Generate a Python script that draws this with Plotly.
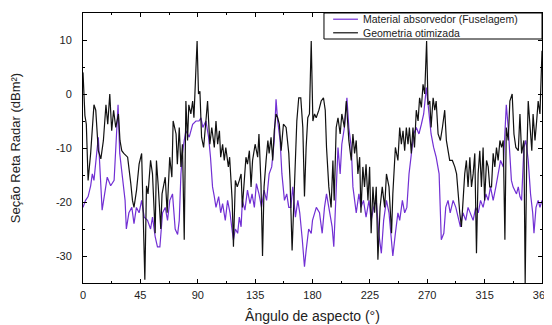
import plotly.graph_objects as go

# Black series: "Geometria otimizada"
ang_geo = [0, 1.5, 2.6, 4, 6, 8.6, 10, 12, 14, 16, 18, 19.4, 21, 22.5, 24, 25.7, 27.8, 29, 30.4, 32,
           35, 36, 37.5, 38.8, 40, 42, 44, 46, 47, 48.5, 49.8, 51, 53, 54.5, 56.6, 57.6, 59, 61, 62, 64.5,
           66, 68, 69.7, 70.7, 73, 74, 75.5, 76.8, 78, 79.4, 80.7, 82, 83, 84.6, 86, 87, 88.6, 89.5, 90.6, 91.7,
           93, 94.6, 96.4, 97.7, 99.5, 101, 103, 104.3, 105.6, 107, 108, 109.5, 110.8, 112, 114, 115, 117, 118, 119.5, 121,
           122.6, 124, 125, 126.5, 127.8, 129, 130.5, 131.8, 133, 135, 137, 138, 139.6, 140.8, 142, 143.6, 145, 146, 147.5, 148.8,
           150, 151.4, 152.7, 154, 155.4, 157.2, 159.3, 161.4, 162.4, 164, 165.8, 167.7, 169.2, 170.8, 172.4, 173.7, 175, 176.3, 177.6, 179,
           180.3, 181.6, 182.9, 185, 186.8, 188.6, 190, 191, 192.8, 194.6, 196, 197, 198.6, 200, 201.7, 203, 205, 206.5, 208.5, 210.4,
           211.7, 213, 214.3, 215.6, 217, 218, 219.5, 220.8, 222, 223.5, 224.8, 226, 227.4, 228.7, 230, 231.3, 233, 234.7, 236.6, 238,
           240, 242, 243, 245, 247, 248.4, 249.7, 251, 252.3, 253.6, 254.9, 256, 257.5, 258.8, 260, 261.4, 262.8, 264, 265.4, 266.7,
           268, 269.5, 270.6, 272, 273, 274.6, 275.9, 277, 278.5, 280.3, 281.9, 283.7, 285, 286, 287.6, 289.7, 291.6, 293, 294.2, 295.5,
           296.8, 298, 299.4, 300.7, 302, 303.4, 304.7, 306, 307.3, 308.6, 309.9, 311.2, 312.5, 313.8, 315, 316.5, 317.8, 319, 320.4, 321.7,
           323, 324.3, 325.6, 327, 328.3, 329.6, 330.9, 332, 333.5, 334.8, 336.6, 338, 339.5, 341.4, 342.7, 344, 345.8, 346.8, 348, 349.2,
           350.6, 352, 353, 354.5, 355.8, 357, 358.4, 360]
rcs_geo = [4, -4, -5.6, -16, -11, -2, -3, -10.5, -12, -8.6, -2, -5.6, 0, -6.8, -3, -6.2, -3.7, -8.6, -10.5, -11,
           -11.7, -13.5, -16.6, -19.7, -21, -17.8, -13, -11, -22, -34.4, -17, -18.5, -12.3, -14.8, -25.8, -12.3, -17, -25, -18.5, -15.4,
           -22, -11.7, -15.4, -5, -7.4, -13, -6.2, -13.5, -9.3, -27, -1.3, -8.6, -2, -3.7, -1.3, -4.4, 4.8, 9.8, 0, 0.5,
           -8, -9.9, -5, -1.3, -9.3, -6.2, -9.9, -5, -9.3, -6.8, -11.7, -9.3, -12.3, -9.9, -13.5, -11.7, -19.7, -28.3, -16, -17.2,
           -16, -14.8, -21, -14.8, -11.7, -13, -10.5, -17.2, -12.3, -9.3, -11.7, -7.4, -16.6, -30, -17.2, -12.3, -8.6, -11, -8, -12.3,
           -6.8, -3.7, -4.4, -5.6, -10.5, -5.6, -6.2, -11, -16, -29, -17.2, -5, -0.7, -0.7, -6.2, -19, -9.9, -4.4, -3.7, 9.8,
           -5, -3.7, -4.4, -3, -1.3, -0.7, -3, -9.9, -17.2, -21, -12.3, -19.7, -6.2, -4.4, -7.4, -3.7, -6.2, -1.3, -8.6, -12.3,
           -7.4, -11, -8.6, -14.8, -11.7, -22, -13.5, -17.2, -13, -19.7, -13.5, -25.8, -17.2, -22, -17.2, -30.7, -21, -17.2, -21, -14.8,
           -17.2, -25.8, -18.5, -9.9, -12.3, -6.2, -9.3, -6.8, -10.5, -6.2, -9.3, -6.2, -11, -6.2, -9.9, -3, -5, -0.7, -2.5, 1.8,
           0, 9.8, -2, -1.3, -6.2, -0.7, -3, -1.3, -7.4, -8.6, -6.2, -3, -8.6, -9.9, -12.3, -12.3, -13.5, -14.8, -18.5, -22,
           -24.6, -19.7, -14.8, -12.3, -17.2, -11.7, -17.2, -14.8, -11, -29.5, -14.8, -10.5, -17.2, -9.9, -19.7, -12.3, -13.5, -17.2, -17.2, -11,
           -13.5, -9.9, -12.3, -8.6, -9.9, -8.6, -27, -6.2, -8.6, -1.3, 0, -7.4, -9.9, -10.5, -3.7, -11, -8.6, -35, -12.3, -1.3,
           -6.2, -10.5, -3.7, -8.6, -5, -1.3, -3.7, 8]

# Purple series: "Material absorvedor (Fuselagem)"
ang_mat = [0, 2, 4, 6, 7.3, 8.6, 12, 15, 19, 21.7, 24.4, 26.2, 27.5, 28.8, 30.9, 33, 34, 36, 38.3, 40,
           41.9, 44, 46, 48, 50.6, 53, 54.5, 56.6, 58.4, 60.3, 62.4, 64.5, 66.3, 68.1, 70.2, 72.3, 74.2, 75.5, 76.8, 78,
           79.4, 80.7, 83.3, 86, 88.6, 91, 92.5, 94, 96.4, 98.5, 100, 101.6, 103, 104.3, 106.4, 108, 109.5, 111.6, 113.4, 115.3,
           116.8, 118, 119.5, 121.3, 122.6, 124, 125, 127, 129, 131, 132.6, 134.4, 136, 138, 140, 142, 144, 146, 148, 150,
           151.4, 152.7, 154.6, 156, 158, 159.8, 161.4, 163, 164.5, 166.6, 168.5, 170, 172, 173.7, 175, 177, 179, 180, 183, 185.5,
           187.6, 189.4, 191, 193.3, 195.4, 196.7, 198, 200, 201.7, 203, 205, 207, 208.5, 210.4, 211.7, 213, 214.3, 216.4, 218, 220,
           222, 224.3, 226, 228, 230, 232, 234, 235.8, 238, 240, 242, 243, 245, 247, 248.4, 250.5, 252.3, 254, 255.7, 257.5,
           259.4, 261.4, 263.5, 265.4, 267.2, 269.3, 271.4, 273, 275, 277, 279.3, 280.3, 281, 283, 284.5, 286.3, 288, 290.3, 292.4, 294.2,
           296, 298, 300.2, 302, 303.9, 306, 308, 310, 311.8, 313.8, 316, 317.8, 319.6, 321.7, 323.8, 325.6, 327.5, 329.6, 330.9, 332,
           333.5, 334.8, 336, 337.3, 338.7, 340, 341.4, 342.7, 344, 345.8, 347.3, 349.2, 351, 352.7, 353.7, 355.3, 357, 358.4, 360]
rcs_mat = [-21, -19.7, -19, -17, -14.8, -16, -8, -21.5, -15.4, -17, -16, -8.6, -2, -11, -16, -19.7, -25, -22, -21, -24,
           -21, -22, -19.7, -22.8, -23.4, -25, -22.8, -26.4, -28.3, -28.3, -22, -21, -23.4, -19.7, -18.5, -25, -26, -23.4, -14.8, -11,
           -8.6, -6.8, -8, -5.6, -5, -5, -4.4, -6.2, -5, -8, -11.7, -17.2, -19, -21, -19, -22, -20.3, -23.4, -19.7, -22,
           -25, -27, -25, -25.8, -22.8, -24.6, -19.7, -21.5, -17.8, -20.3, -18.5, -21, -16.6, -18.5, -21, -17.8, -19.7, -14.8, -13.5, -8.6,
           -1, -5, -8.6, -14.8, -19.7, -18.5, -21, -21, -17.2, -22.8, -19.7, -22, -27, -32, -29, -25, -25.8, -23.4, -21, -22,
           -25.8, -21, -18.5, -22, -24.6, -28.3, -19.7, -9.9, -14.8, -9.3, -6.2, -0.7, -6.2, -9.9, -17.2, -19.7, -22, -18.5, -21, -19.7,
           -22.8, -19.7, -23.4, -21, -19.7, -25.8, -29.5, -23.4, -19.7, -22, -27, -30, -25.8, -22, -23.4, -19.7, -22, -21, -14.8, -11,
           -7.4, -6.2, -7.4, -5.6, -3.7, 1.2, -3.7, -7.4, -9.9, -11.7, -14.8, -23.4, -27, -25.8, -21, -19.7, -22, -19.7, -21, -22.8,
           -24.6, -22, -23.4, -21, -22, -23.4, -21, -22, -19.7, -21, -18.5, -19.7, -17.2, -19.7, -17.2, -14.8, -12.3, -13.5, -6.2, -2,
           -6.2, -11.7, -16, -17.2, -17.8, -18.5, -17.2, -19, -19.7, -9.9, -8.6, -12.3, -18.5, -22, -25.8, -21, -19.7, -21, -19.7]

x_ticks = [0, 45, 90, 135, 180, 225, 270, 315, 360]
y_ticks = [-30, -20, -10, 0, 10]
series_names = ["Material absorvedor (Fuselagem)", "Geometria otimizada"]
series_colors = ["#7230D4", "#111111"]

FONT = "Liberation Sans, Arial, sans-serif"

fig = go.Figure()
fig.add_trace(go.Scatter(x=ang_mat, y=rcs_mat, mode="lines", name=series_names[0],
                         line=dict(color=series_colors[0], width=1.2), showlegend=False))
fig.add_trace(go.Scatter(x=ang_geo, y=rcs_geo, mode="lines", name=series_names[1],
                         line=dict(color=series_colors[1], width=1.2), showlegend=False))

axis_common = dict(showline=True, linecolor="black", linewidth=1, mirror="ticks", ticks="inside",
                   ticklen=4, tickcolor="black", showgrid=False, zeroline=False, automargin=False,
                   tickfont=dict(family=FONT, size=11, color="#222"))

fig.update_xaxes(range=[0, 360], tickvals=x_ticks, ticktext=[str(v) for v in x_ticks],
                 minor=dict(ticks="inside", ticklen=2, tickcolor="black", dtick=22.5),
                 ticklabelstandoff=2,
                 title=dict(text="Ângulo de aspecto (°)", standoff=10,
                            font=dict(family=FONT, size=14, color="#222")),
                 **axis_common)
fig.update_yaxes(range=[-35, 15], tickvals=y_ticks, ticktext=[str(v) for v in y_ticks],
                 minor=dict(ticks="inside", ticklen=2, tickcolor="black", dtick=5),
                 ticklabelstandoff=8,
                 title=dict(text="Seção Reta Radar (dBm²)", standoff=38,
                            font=dict(family=FONT, size=13, color="#222")),
                 **axis_common)

# Compact boxed legend (top-right, inside the plot frame)
legend_shapes = [
    dict(type="rect", xref="paper", yref="paper", x0=0.525, x1=1.0, y0=0.9037, y1=1.0,
         line=dict(color="black", width=1), fillcolor="white", layer="above"),
]
legend_rows_y = [0.9770, 0.9267]
for color, yy in zip(series_colors, legend_rows_y):
    legend_shapes.append(dict(type="line", xref="paper", yref="paper", x0=0.545, x1=0.599, y0=yy, y1=yy,
                              line=dict(color=color, width=1.2), layer="above"))
fig.add_annotation(x=0.606, y=0.9519, xref="paper", yref="paper",
                   text="<br>".join(series_names), showarrow=False, align="left",
                   xanchor="left", yanchor="middle",
                   font=dict(family=FONT, size=10.5, color="#222"))

fig.update_layout(
    width=544, height=317,
    margin=dict(l=75, r=10, t=5, b=42),
    plot_bgcolor="white", paper_bgcolor="white",
    showlegend=False,
    shapes=legend_shapes,
)

fig.write_html("out.html")
